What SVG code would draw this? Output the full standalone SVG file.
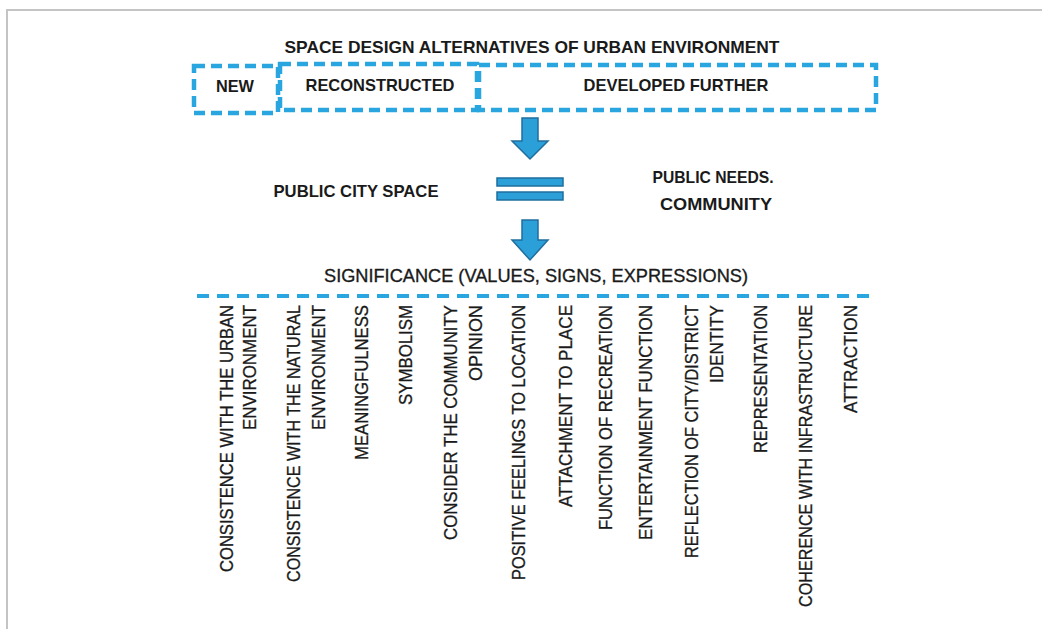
<svg xmlns="http://www.w3.org/2000/svg" width="1042" height="629" viewBox="0 0 1042 629">
  <style>
    .frame { fill: none; stroke: #c4c4c4; stroke-width: 2; }
    .dash-box { fill: none; stroke: #29a6df; stroke-width: 4.5; stroke-dasharray: 11 6; }
    .dash-line { fill: none; stroke: #29a6df; stroke-width: 4; stroke-dasharray: 12 8; }
    .arrow { fill: #2a9fd8; stroke: #1f6e9e; stroke-width: 1.5; stroke-linejoin: miter; }
    .head { font-family: "Liberation Sans", Arial, sans-serif; font-weight: bold; font-size: 17px; fill: #1a1a1a; text-anchor: middle; }
    .sig { font-family: "Liberation Sans", Arial, sans-serif; font-size: 18.5px; fill: #1a1a1a; stroke: #1a1a1a; stroke-width: 0.35; text-anchor: middle; }
    .item { font-family: "Liberation Sans", Arial, sans-serif; font-size: 18px; fill: #1a1a1a; stroke: #1a1a1a; stroke-width: 0.3; text-anchor: end; }
  </style>

  <!-- page frame -->
  <path class="frame" d="M7 629 V10 H1042"/>

  <!-- title -->
  <text class="head" x="532" y="53" textLength="495" lengthAdjust="spacingAndGlyphs">SPACE DESIGN ALTERNATIVES OF URBAN ENVIRONMENT</text>

  <!-- alternatives -->
  <g id="node-new">
    <rect class="dash-box" x="194" y="66" width="84" height="47"/>
    <text class="head" x="235" y="92" textLength="38" lengthAdjust="spacingAndGlyphs">NEW</text>
  </g>
  <g id="node-reconstructed">
    <rect class="dash-box" x="280" y="64" width="197" height="46"/>
    <text class="head" x="380" y="91" textLength="149" lengthAdjust="spacingAndGlyphs">RECONSTRUCTED</text>
  </g>
  <g id="node-developed">
    <rect class="dash-box" x="479" y="65" width="397" height="45"/>
    <text class="head" x="676" y="91" textLength="185" lengthAdjust="spacingAndGlyphs">DEVELOPED FURTHER</text>
  </g>

  <!-- arrows and equality sign -->
  <g id="connectors">
    <path class="arrow" d="M522 118 H538 V141 H548 L530 159 L512 141 H522 Z"/>
    <rect class="arrow" x="497" y="178" width="66" height="8"/>
    <rect class="arrow" x="497" y="192" width="66" height="8"/>
    <path class="arrow" d="M522 220 H538 V240 H548 L530 260 L512 240 H522 Z"/>
  </g>

  <g id="node-public-space">
    <text class="head" x="356" y="197" textLength="165" lengthAdjust="spacingAndGlyphs">PUBLIC CITY SPACE</text>
  </g>
  <g id="node-public-needs">
    <text class="head" x="713" y="183" textLength="121" lengthAdjust="spacingAndGlyphs">PUBLIC NEEDS.</text>
    <text class="head" x="716" y="210" textLength="112" lengthAdjust="spacingAndGlyphs">COMMUNITY</text>
  </g>

  <g id="node-significance">
    <text class="sig" x="536" y="282" textLength="424" lengthAdjust="spacingAndGlyphs">SIGNIFICANCE (VALUES, SIGNS, EXPRESSIONS)</text>
    <line class="dash-line" x1="197" y1="296" x2="876" y2="296"/>
  </g>

  <!-- significance items, read bottom to top -->
  <g id="items">
    <g id="item-urban">
      <text class="item" transform="translate(233 305) rotate(-90)" textLength="267" lengthAdjust="spacingAndGlyphs">CONSISTENCE WITH THE URBAN</text>
      <text class="item" transform="translate(256 305) rotate(-90)" textLength="125" lengthAdjust="spacingAndGlyphs">ENVIRONMENT</text>
    </g>
    <g id="item-natural">
      <text class="item" transform="translate(300 305) rotate(-90)" textLength="277" lengthAdjust="spacingAndGlyphs">CONSISTENCE WITH THE NATURAL</text>
      <text class="item" transform="translate(325 305) rotate(-90)" textLength="125" lengthAdjust="spacingAndGlyphs">ENVIRONMENT</text>
    </g>
    <g id="item-meaningfulness">
      <text class="item" transform="translate(368 305) rotate(-90)" textLength="155" lengthAdjust="spacingAndGlyphs">MEANINGFULNESS</text>
    </g>
    <g id="item-symbolism">
      <text class="item" transform="translate(412 305) rotate(-90)" textLength="100" lengthAdjust="spacingAndGlyphs">SYMBOLISM</text>
    </g>
    <g id="item-community">
      <text class="item" transform="translate(457 305) rotate(-90)" textLength="235" lengthAdjust="spacingAndGlyphs">CONSIDER THE COMMUNITY</text>
      <text class="item" transform="translate(482 305) rotate(-90)" textLength="76" lengthAdjust="spacingAndGlyphs">OPINION</text>
    </g>
    <g id="item-feelings">
      <text class="item" transform="translate(525 305) rotate(-90)" textLength="275" lengthAdjust="spacingAndGlyphs">POSITIVE FEELINGS TO LOCATION</text>
    </g>
    <g id="item-attachment">
      <text class="item" transform="translate(572 305) rotate(-90)" textLength="202" lengthAdjust="spacingAndGlyphs">ATTACHMENT TO PLACE</text>
    </g>
    <g id="item-recreation">
      <text class="item" transform="translate(612 305) rotate(-90)" textLength="225" lengthAdjust="spacingAndGlyphs">FUNCTION OF RECREATION</text>
    </g>
    <g id="item-entertainment">
      <text class="item" transform="translate(652 305) rotate(-90)" textLength="235" lengthAdjust="spacingAndGlyphs">ENTERTAINMENT FUNCTION</text>
    </g>
    <g id="item-identity">
      <text class="item" transform="translate(698 305) rotate(-90)" textLength="253" lengthAdjust="spacingAndGlyphs">REFLECTION OF CITY/DISTRICT</text>
      <text class="item" transform="translate(723 305) rotate(-90)" textLength="78" lengthAdjust="spacingAndGlyphs">IDENTITY</text>
    </g>
    <g id="item-representation">
      <text class="item" transform="translate(767 305) rotate(-90)" textLength="148" lengthAdjust="spacingAndGlyphs">REPRESENTATION</text>
    </g>
    <g id="item-infrastructure">
      <text class="item" transform="translate(812 305) rotate(-90)" textLength="302" lengthAdjust="spacingAndGlyphs">COHERENCE WITH INFRASTRUCTURE</text>
    </g>
    <g id="item-attraction">
      <text class="item" transform="translate(857 305) rotate(-90)" textLength="108" lengthAdjust="spacingAndGlyphs">ATTRACTION</text>
    </g>
  </g>
</svg>
